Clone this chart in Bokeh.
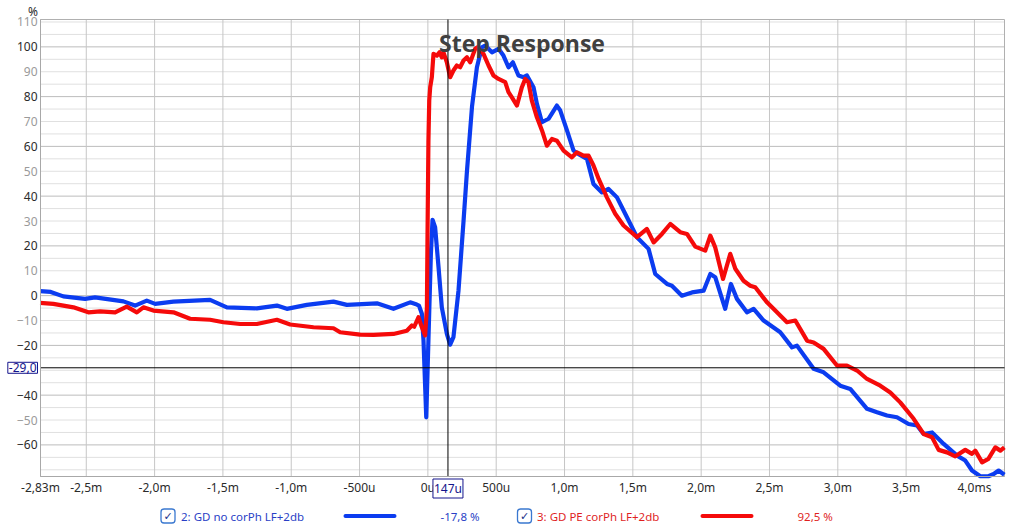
from bokeh.plotting import figure
from bokeh.models import Range1d, FixedTicker, LinearAxis, Label, BoxAnnotation
from bokeh.embed import file_html
from bokeh.resources import INLINE

# ---------------- data (time in ms, response in %) ----------------
blue_name = "2: GD  no corPh LF+2db"
blue_value = "-17,8 %"
blue_t = [-2.838, -2.760, -2.668, -2.509, -2.436, -2.228, -2.143, -2.057, -1.996, -1.862,
          -1.594, -1.471, -1.252, -1.105, -1.032, -0.886, -0.691, -0.593, -0.373, -0.252,
          -0.130, -0.081, -0.065, -0.044, -0.032, -0.012, 0.004, 0.022, 0.034, 0.053,
          0.078, 0.102, 0.139, 0.163, 0.187, 0.224, 0.261, 0.286, 0.323, 0.359,
          0.395, 0.419, 0.469, 0.517, 0.553, 0.590, 0.622, 0.663, 0.700, 0.725,
          0.773, 0.798, 0.835, 0.883, 0.944, 0.969, 1.018, 1.066, 1.100, 1.164,
          1.212, 1.274, 1.322, 1.384, 1.457, 1.530, 1.615, 1.664, 1.750, 1.786,
          1.859, 1.933, 2.018, 2.067, 2.103, 2.176, 2.218, 2.262, 2.335, 2.384,
          2.457, 2.579, 2.665, 2.701, 2.823, 2.896, 3.018, 3.091, 3.214, 3.287,
          3.360, 3.433, 3.518, 3.580, 3.628, 3.690, 3.775, 3.873, 3.933, 3.982,
          4.043, 4.102, 4.141, 4.177, 4.219]
blue_v = [1.8, 1.5, -0.3, -1.3, -0.7, -2.3, -4.0, -2.0, -3.3, -2.4,
          -1.7, -4.7, -5.1, -4.0, -5.3, -3.7, -2.4, -3.7, -3.1, -5.3,
          -2.7, -3.6, -4.0, -7.3, -18.0, -48.9, -18.0, 16.8, 30.5, 27.5,
          11.4, -4.7, -15.4, -19.7, -16.7, 2.0, 30.0, 50.0, 76.0, 91.8,
          99.8, 100.5, 97.8, 99.2, 96.5, 91.8, 93.8, 88.5, 87.8, 88.5,
          83.8, 77.1, 69.7, 71.1, 76.4, 74.4, 66.4, 58.3, 57.0, 55.0,
          44.9, 41.5, 42.9, 39.5, 31.5, 23.5, 18.8, 8.7, 4.7, 4.0,
          0.0, 1.3, 2.0, 8.7, 7.4, -5.3, 4.7, -1.3, -6.7, -5.3,
          -10.0, -14.7, -20.8, -20.1, -29.4, -30.8, -36.2, -37.5, -45.5, -46.9,
          -48.2, -48.9, -51.6, -52.2, -55.6, -55.0, -59.6, -64.3, -66.3, -70.3,
          -72.6, -72.6, -71.7, -70.3, -72.0]

red_name = "3: GD PE corPh LF+2db"
red_value = "92,5 %"
red_t = [-2.838, -2.741, -2.594, -2.485, -2.399, -2.289, -2.204, -2.130, -2.082, -2.009,
         -1.862, -1.740, -1.594, -1.496, -1.374, -1.252, -1.105, -1.008, -0.837, -0.691,
         -0.642, -0.496, -0.398, -0.252, -0.154, -0.117, -0.100, -0.069, -0.044, -0.020,
         -0.007, -0.003, 0.004, 0.010, 0.017, 0.029, 0.041, 0.066, 0.085, 0.102,
         0.114, 0.139, 0.163, 0.187, 0.212, 0.236, 0.261, 0.286, 0.310, 0.346,
         0.363, 0.407, 0.444, 0.480, 0.517, 0.566, 0.590, 0.615, 0.652, 0.688,
         0.712, 0.736, 0.761, 0.798, 0.835, 0.871, 0.908, 0.944, 0.993, 1.054,
         1.091, 1.139, 1.176, 1.212, 1.250, 1.310, 1.371, 1.432, 1.530, 1.603,
         1.652, 1.713, 1.774, 1.847, 1.896, 1.957, 2.030, 2.067, 2.103, 2.160,
         2.213, 2.250, 2.310, 2.359, 2.396, 2.482, 2.555, 2.628, 2.689, 2.775,
         2.823, 2.896, 2.994, 3.067, 3.141, 3.214, 3.311, 3.384, 3.457, 3.555,
         3.628, 3.690, 3.738, 3.799, 3.860, 3.933, 3.982, 4.006, 4.056, 4.102,
         4.153, 4.190, 4.219]
red_v = [-2.9, -3.3, -4.7, -6.7, -6.3, -6.7, -4.4, -6.7, -4.7, -6.0,
         -6.7, -9.3, -9.7, -10.7, -11.4, -11.4, -9.7, -11.6, -12.7, -13.1,
         -14.7, -15.7, -15.8, -15.4, -14.1, -12.0, -12.5, -8.7, -12.7, -16.0,
         -4.7, 22.0, 62.0, 78.4, 83.8, 87.8, 97.2, 96.5, 97.8, 95.8,
         97.8, 93.8, 87.8, 90.5, 92.5, 91.8, 94.5, 95.8, 93.8, 99.2,
         99.8, 97.2, 92.5, 88.5, 87.1, 85.8, 81.8, 79.7, 76.4, 83.8,
         87.1, 85.8, 78.4, 71.7, 66.4, 60.3, 63.0, 62.3, 58.3, 55.6,
         57.6, 56.3, 56.3, 52.3, 46.9, 39.5, 32.9, 28.2, 23.5, 26.8,
         21.4, 24.8, 28.8, 25.5, 24.8, 19.7, 18.1, 24.1, 19.4, 6.7,
         16.8, 10.8, 6.0, 4.0, 3.4, -2.7, -6.7, -10.7, -10.0, -18.1,
         -18.8, -21.4, -28.1, -28.1, -30.1, -33.5, -36.2, -38.9, -42.9, -49.5,
         -55.6, -56.9, -62.0, -63.0, -64.6, -62.0, -63.6, -62.3, -67.0, -65.6,
         -61.0, -62.3, -61.0]

assert len(blue_t) == len(blue_v)
assert len(red_t) == len(red_v)

x_ticks = [-2.835, -2.5, -2.0, -1.5, -1.0, -0.5, 0.0, 0.5, 1.0, 1.5, 2.0, 2.5, 3.0, 3.5, 4.0]
x_labels = ["-2,83m", "-2,5m", "-2,0m", "-1,5m", "-1,0m", "-500u", "0u", "500u",
            "1,0m", "1,5m", "2,0m", "2,5m", "3,0m", "3,5m", "4,0ms"]
y_dark_ticks = [-60, -40, -20, 0, 20, 40, 60, 80, 100]
y_gray_ticks = [-50, -10, 10, 30, 50, 70, 90, 110]
y_minor_grid = [v for v in range(-70, 111, 5) if v % 20 != 0]

x_start, x_end = -2.835, 4.22     # visible time span (ms)
y_start, y_end = -72.7, 111.0     # visible response span (%)

cursor_t = 0.147
cursor_t_label = "147u"
cursor_v = -29.0
cursor_v_label = "-29,0"

title_text = "Step Response"
y_unit = "%"

# ---------------- layout (pixels) ----------------
W, H = 1024, 525
PA_L, PA_R, PA_T, PA_B = 40, 1004, 19, 476        # plot-area edges in the picture
sx = (PA_R - PA_L) / (x_end - x_start)
sy = (PA_B - PA_T) / (y_end - y_start)

FONT = "Noto Sans"
BLUE = "#0b3cf0"
RED = "#f50a0a"
NAVY = "#14148c"

p = figure(width=W, height=H, output_backend="svg", toolbar_location=None,
           x_range=Range1d(x_start - PA_L / sx, x_end + (W - PA_R) / sx),
           y_range=Range1d(y_start - (H - PA_B) / sy, y_end + PA_T / sy),
           x_axis_location=None, y_axis_location=None,
           min_border=0, min_border_left=0, min_border_right=0,
           min_border_top=0, min_border_bottom=0)
p.background_fill_color = "white"
p.border_fill_color = "white"
p.outline_line_color = None
p.xgrid.visible = False
p.ygrid.visible = False

# grid lines limited to the plot area
p.segment(x0=[x_start] * len(y_minor_grid), y0=y_minor_grid,
          x1=[x_end] * len(y_minor_grid), y1=y_minor_grid,
          line_color="#e0e0e0", line_width=1)
p.segment(x0=[x_start] * len(y_dark_ticks), y0=y_dark_ticks,
          x1=[x_end] * len(y_dark_ticks), y1=y_dark_ticks,
          line_color="#bcbcbc", line_width=1)
p.segment(x0=x_ticks[1:], y0=[y_start] * (len(x_ticks) - 1),
          x1=x_ticks[1:], y1=[y_end] * (len(x_ticks) - 1),
          line_color="#c6c6c6", line_width=1)
p.quad(left=[x_start], right=[x_end], bottom=[y_start], top=[y_end],
       fill_color=None, line_color="#b0b0b0", line_width=1)

# axes pinned to the plot-area edges
def style_axis(ax, color):
    ax.major_label_text_font = FONT
    ax.major_label_text_font_size = "12px"
    ax.major_label_text_color = color
    ax.major_tick_out = 0
    ax.major_tick_in = 0
    ax.minor_tick_out = 0
    ax.minor_tick_in = 0

xax = LinearAxis(fixed_location=y_start, ticker=FixedTicker(ticks=x_ticks),
                 bounds=(x_start, x_end), axis_line_color="#a8a8a8")
xax.major_label_overrides = {t: l for t, l in zip(x_ticks, x_labels)}
style_axis(xax, "#2b2b2b")
xax.major_label_standoff = 2
p.add_layout(xax, "below")

yax = LinearAxis(fixed_location=x_start, ticker=FixedTicker(ticks=y_dark_ticks),
                 bounds=(y_start, y_end), axis_line_color="#a8a8a8")
style_axis(yax, "#2b2b2b")
yax.major_label_standoff = 3
p.add_layout(yax, "left")

yax_g = LinearAxis(fixed_location=x_start, ticker=FixedTicker(ticks=y_gray_ticks),
                   bounds=(y_start, y_end), axis_line_color=None)
style_axis(yax_g, "#9a9a9a")
yax_g.major_label_standoff = 3
p.add_layout(yax_g, "left")

# curves
p.line(blue_t, blue_v, line_color=BLUE, line_width=4.2, line_join="round")
p.line(red_t, red_v, line_color=RED, line_width=4.2, line_join="round")

# cursors
p.segment(x0=[cursor_t], y0=[y_start], x1=[cursor_t], y1=[y_end], line_color="black", line_width=1)
p.segment(x0=[x_start], y0=[cursor_v], x1=[x_end], y1=[cursor_v], line_color="black", line_width=1)
p.add_layout(Label(x=PA_L - 3, x_units="screen", y=cursor_v, text=cursor_v_label, text_align="right",
                   text_baseline="middle", text_font=FONT, text_font_size="12px",
                   text_color=NAVY, background_fill_color="white",
                   border_line_color=NAVY, border_line_width=1, padding=1))
p.add_layout(Label(x=cursor_t, y=H - 488, y_units="screen", text=cursor_t_label, text_align="center",
                   text_baseline="middle", text_font=FONT, text_font_size="12px",
                   text_color=NAVY, background_fill_color="white",
                   border_line_color=NAVY, border_line_width=1, padding=1))

# title and unit
p.add_layout(Label(x=521.5, x_units="screen", y=H - 42.7, y_units="screen", text=title_text,
                   text_align="center", text_baseline="alphabetic", text_font="Open Sans",
                   text_font_size="23px", text_font_style="bold", text_color="#404040"))
p.add_layout(Label(x=32.5, x_units="screen", y=H - 11, y_units="screen", text=y_unit,
                   text_align="center", text_baseline="alphabetic", text_font=FONT,
                   text_font_size="12px", text_color="#2b2b2b"))

# legend row
LEG_Y = H - 515.5
def legend_entry(box_x, text_x, line_x0, line_x1, val_x, name, val, color, text_color):
    p.add_layout(BoxAnnotation(left=box_x, right=box_x + 14, bottom=LEG_Y - 7, top=LEG_Y + 7,
                               left_units="screen", right_units="screen",
                               bottom_units="screen", top_units="screen",
                               fill_color="white", fill_alpha=1.0,
                               line_color="#3a78d0", line_alpha=1.0, line_width=1.3,
                               border_radius=3))
    p.add_layout(Label(x=box_x + 7, x_units="screen", y=LEG_Y, y_units="screen", text="✓",
                       text_align="center", text_baseline="middle", text_font="DejaVu Sans",
                       text_font_size="11px", text_color="#1b2f8a"))
    p.add_layout(Label(x=text_x, x_units="screen", y=LEG_Y, y_units="screen", text=name,
                       text_align="left", text_baseline="middle", text_font=FONT,
                       text_font_size="11.5px", text_color=text_color))
    p.add_layout(BoxAnnotation(left=line_x0, right=line_x1, bottom=LEG_Y - 2, top=LEG_Y + 2,
                               left_units="screen", right_units="screen",
                               bottom_units="screen", top_units="screen",
                               fill_color=color, fill_alpha=1.0, line_color=None, border_radius=2))
    p.add_layout(Label(x=val_x, x_units="screen", y=LEG_Y, y_units="screen", text=val,
                       text_align="left", text_baseline="middle", text_font=FONT,
                       text_font_size="11.5px", text_color=text_color))

legend_entry(160.5, 180.5, 343, 396, 440, blue_name, blue_value, BLUE, "#2a3fc6")
legend_entry(517, 536.5, 700, 753, 797, red_name, red_value, RED, "#e01f1f")

open("out.html", "w").write(file_html(p, INLINE))
